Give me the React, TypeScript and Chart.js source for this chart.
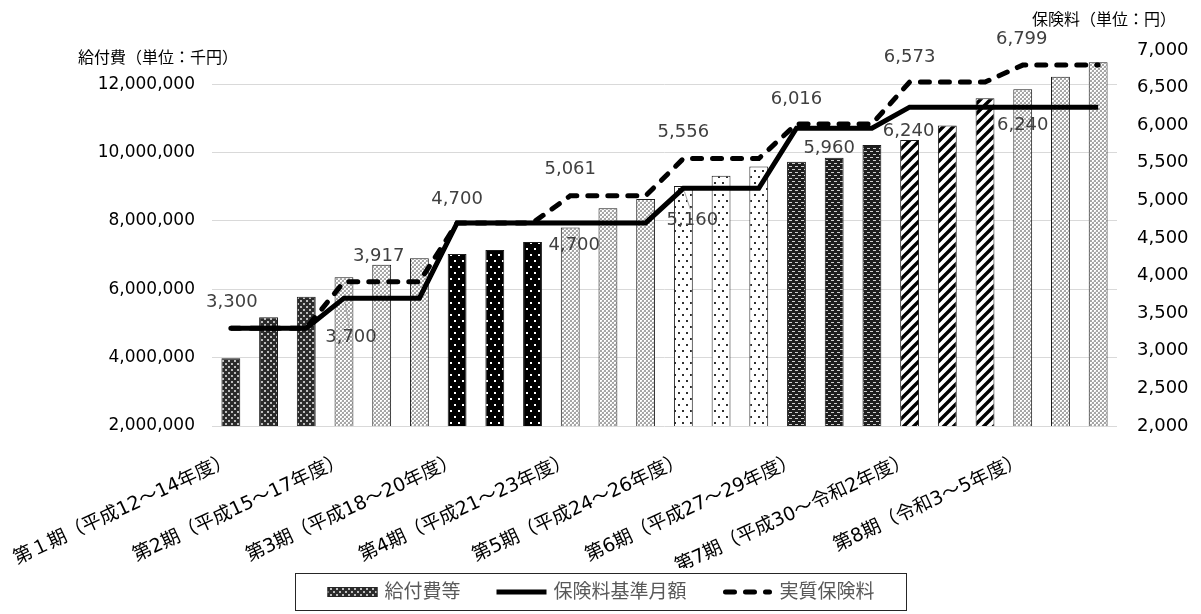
import React, { useEffect, useRef } from "react";
import { Chart, registerables } from "chart.js";

Chart.register(...registerables);

const FONT = '"DejaVu Sans", "Noto Sans CJK JP", sans-serif';

// ---- data ----
const categories = [
  "第１期（平成12～14年度）", "", "",
  "第2期（平成15～17年度）", "", "",
  "第3期（平成18～20年度）", "", "",
  "第4期（平成21～23年度）", "", "",
  "第5期（平成24～26年度）", "", "",
  "第6期（平成27～29年度）", "", "",
  "第7期（平成30～令和2年度）", "", "",
  "第8期（令和3～5年度）", "", "",
];

// 給付費等 (千円)
const benefitCosts = [
  3980000, 5180000, 5780000,
  6350000, 6720000, 6910000,
  7030000, 7150000, 7380000,
  7810000, 8370000, 8640000,
  9020000, 9320000, 9590000,
  9730000, 9850000, 10220000,
  10370000, 10790000, 11590000,
  11850000, 12220000, 12640000,
];

// 保険料基準月額 (円)
const baseMonthlyPremium = [
  3300, 3300, 3300,
  3700, 3700, 3700,
  4700, 4700, 4700,
  4700, 4700, 4700,
  5160, 5160, 5160,
  5960, 5960, 5960,
  6240, 6240, 6240,
  6240, 6240, 6240,
];

// 実質保険料 (円)
const effectivePremium = [
  3300, 3300, 3300,
  3917, 3917, 3917,
  4700, 4700, 4700,
  5061, 5061, 5061,
  5556, 5556, 5556,
  6016, 6016, 6016,
  6573, 6573, 6573,
  6799, 6799, 6799,
];

const leftTicks = [2000000, 4000000, 6000000, 8000000, 10000000, 12000000];
const rightTicks = [2000, 2500, 3000, 3500, 4000, 4500, 5000, 5500, 6000, 6500, 7000];

const seriesNames = ["給付費等", "保険料基準月額", "実質保険料"];
const leftAxisTitle = "給付費（単位：千円）";
const rightAxisTitle = "保険料（単位：円）";

// value-label placement (dataset index, point index, pixel offsets, leader line)
const labelLayout = [
  { ds: 1, i: 0, dx: 1, dy: -26, leader: false },
  { ds: 1, i: 3, dx: 7, dy: 39, leader: true },
  { ds: 1, i: 6, dx: 0, dy: -24, leader: false },
  { ds: 1, i: 9, dx: 4, dy: 22, leader: false },
  { ds: 1, i: 12, dx: 9, dy: 32, leader: true },
  { ds: 1, i: 16, dx: -5, dy: 20, leader: false },
  { ds: 1, i: 18, dx: -1, dy: 24, leader: false },
  { ds: 1, i: 21, dx: 0, dy: 18, leader: false },
  { ds: 2, i: 4, dx: -3, dy: -26, leader: false },
  { ds: 2, i: 9, dx: 0, dy: -26, leader: false },
  { ds: 2, i: 12, dx: 0, dy: -26, leader: false },
  { ds: 2, i: 15, dx: 0, dy: -25, leader: false },
  { ds: 2, i: 18, dx: 0, dy: -25, leader: false },
  { ds: 2, i: 21, dx: -1, dy: -26, leader: false },
];

const fmt = (v: number) => Number(v).toLocaleString("en-US");

function makeTile(
  target: CanvasRenderingContext2D,
  w: number,
  h: number,
  draw: (g: CanvasRenderingContext2D) => void
): CanvasPattern {
  const c = document.createElement("canvas");
  c.width = w;
  c.height = h;
  const g = c.getContext("2d") as CanvasRenderingContext2D;
  draw(g);
  return target.createPattern(c, "repeat") as CanvasPattern;
}

function buildPatterns(ctx: CanvasRenderingContext2D) {
  const darkGrid = makeTile(ctx, 6, 6, (g) => {
    g.fillStyle = "#2b2b2b";
    g.fillRect(0, 0, 6, 6);
    g.fillStyle = "#bdbdbd";
    g.fillRect(0, 0, 2, 2);
    g.fillRect(3, 3, 2, 2);
  });
  const lightDots = makeTile(ctx, 4, 4, (g) => {
    g.fillStyle = "#a6a6a6";
    g.fillRect(0, 0, 4, 4);
    g.fillStyle = "#ffffff";
    g.fillRect(0, 0, 2, 1);
    g.fillRect(0, 1, 1, 1);
    g.fillRect(2, 2, 2, 1);
    g.fillRect(2, 3, 1, 1);
    g.fillStyle = "#e6e6e6";
    g.fillRect(1, 1, 1, 1);
    g.fillRect(3, 3, 1, 1);
  });
  const blackDots = makeTile(ctx, 8, 12, (g) => {
    g.fillStyle = "#000";
    g.fillRect(0, 0, 8, 12);
    g.fillStyle = "#ffffff";
    g.fillRect(2, 2, 2, 2);
    g.fillRect(6, 8, 2, 2);
  });
  const whiteDots = makeTile(ctx, 8, 12, (g) => {
    g.fillStyle = "#ffffff";
    g.fillRect(0, 0, 8, 12);
    g.fillStyle = "#303030";
    g.fillRect(2, 2, 2, 2);
    g.fillRect(6, 8, 2, 2);
  });
  const dashes = makeTile(ctx, 6, 6, (g) => {
    g.fillStyle = "#1e1e1e";
    g.fillRect(0, 0, 6, 6);
    g.fillStyle = "#cfcfcf";
    g.fillRect(0, 1, 3, 1);
    g.fillRect(3, 4, 3, 1);
  });
  const diagonal = makeTile(ctx, 10, 10, (g) => {
    g.fillStyle = "#ffffff";
    g.fillRect(0, 0, 10, 10);
    g.strokeStyle = "#000";
    g.lineWidth = 3.4;
    g.beginPath();
    g.moveTo(-2, 12);
    g.lineTo(12, -2);
    g.moveTo(-2, 2);
    g.lineTo(2, -2);
    g.moveTo(8, 12);
    g.lineTo(12, 8);
    g.stroke();
  });
  return [darkGrid, lightDots, blackDots, lightDots, whiteDots, dashes, diagonal, lightDots];
}

const valueLabelPlugin = {
  id: "valueLabels",
  afterDatasetsDraw(chart: any) {
    const ctx = chart.ctx as CanvasRenderingContext2D;
    ctx.save();
    ctx.font = `18px ${FONT}`;
    ctx.textAlign = "center";
    ctx.textBaseline = "middle";
    for (const l of labelLayout) {
      const el = chart.getDatasetMeta(l.ds).data[l.i];
      const v = chart.data.datasets[l.ds].data[l.i];
      const tx = el.x + l.dx;
      const ty = el.y + l.dy;
      if (l.leader) {
        ctx.strokeStyle = "#a6a6a6";
        ctx.lineWidth = 1;
        ctx.beginPath();
        ctx.moveTo(tx - 2, ty - 11);
        ctx.lineTo(el.x + 1, el.y + 3);
        ctx.stroke();
      }
      ctx.fillStyle = "#404040";
      ctx.fillText(fmt(v), tx, ty);
    }
    ctx.restore();
  },
};

const axisTitlePlugin = {
  id: "axisTitles",
  afterDraw(chart: any) {
    const { ctx, chartArea } = chart;
    ctx.save();
    ctx.font = `16px ${FONT}`;
    ctx.fillStyle = "#000";
    ctx.textAlign = "center";
    ctx.textBaseline = "middle";
    ctx.fillText(leftAxisTitle, chartArea.left - 54, chartArea.top + 9);
    ctx.fillText(rightAxisTitle, chartArea.right - 13, chartArea.top - 29);
    ctx.restore();
  },
};

function makeLegendPlugin(swatch: CanvasPattern) {
  return {
    id: "boxLegend",
    afterDraw(chart: any) {
      const ctx = chart.ctx as CanvasRenderingContext2D;
      ctx.save();
      ctx.font = `19px ${FONT}`;
      const swW = 50;
      const gap = 7;
      const itemGap = 36;
      const padX = 32;
      const widths = seriesNames.map((t) => swW + gap + ctx.measureText(t).width);
      const total = widths.reduce((a, b) => a + b, 0) + itemGap * (widths.length - 1);
      const boxW = total + padX * 2;
      const boxH = 37;
      const boxLeft = Math.round(chart.width / 2 - boxW / 2) + 0.5;
      const boxTop = chart.height - 4 - boxH + 0.5;
      ctx.strokeStyle = "#262626";
      ctx.lineWidth = 1;
      ctx.strokeRect(boxLeft, boxTop, Math.round(boxW), boxH);
      const cy = boxTop + boxH / 2;
      let x = boxLeft + padX;
      seriesNames.forEach((t, k) => {
        if (k === 0) {
          ctx.fillStyle = swatch;
          ctx.fillRect(x, cy - 5, swW, 10);
          ctx.strokeStyle = "#262626";
          ctx.lineWidth = 1;
          ctx.strokeRect(x + 0.5, cy - 5 + 0.5, swW - 1, 9);
        } else {
          ctx.strokeStyle = "#000";
          ctx.lineWidth = 5;
          ctx.beginPath();
          if (k === 2) {
            ctx.setLineDash([9, 11]);
            ctx.lineCap = "round";
            ctx.moveTo(x + 3, cy);
            ctx.lineTo(x + swW - 3, cy);
          } else {
            ctx.setLineDash([]);
            ctx.lineCap = "butt";
            ctx.moveTo(x, cy);
            ctx.lineTo(x + swW, cy);
          }
          ctx.stroke();
          ctx.setLineDash([]);
        }
        ctx.fillStyle = "#595959";
        ctx.textAlign = "left";
        ctx.textBaseline = "middle";
        ctx.fillText(t, x + swW + gap, cy + 1);
        x += widths[k] + itemGap;
      });
      ctx.restore();
    },
  };
}

export default function App() {
  const canvasRef = useRef<HTMLCanvasElement | null>(null);

  useEffect(() => {
    const canvas = canvasRef.current;
    if (!canvas) return;
    const ctx = canvas.getContext("2d") as CanvasRenderingContext2D;
    const patterns = buildPatterns(ctx);
    Chart.defaults.font.family = FONT;

    const chart = new Chart(ctx, {
      type: "bar",
      data: {
        labels: categories,
        datasets: [
          {
            type: "bar",
            label: seriesNames[0],
            data: benefitCosts,
            yAxisID: "y",
            backgroundColor: benefitCosts.map((_, i) => patterns[Math.floor(i / 3)]),
            borderColor: "#1a1a1a",
            borderWidth: 1,
            barPercentage: 0.5,
            categoryPercentage: 1,
            order: 3,
          } as any,
          {
            type: "line",
            label: seriesNames[1],
            data: baseMonthlyPremium,
            yAxisID: "y1",
            borderColor: "#000",
            borderWidth: 5,
            pointRadius: 0,
            tension: 0,
            fill: false,
            order: 1,
          } as any,
          {
            type: "line",
            label: seriesNames[2],
            data: effectivePremium,
            yAxisID: "y1",
            borderColor: "#000",
            borderWidth: 5,
            borderDash: [9, 11],
            borderCapStyle: "round",
            pointRadius: 0,
            tension: 0,
            fill: false,
            order: 2,
          } as any,
        ],
      },
      options: {
        responsive: false,
        animation: false,
        layout: { padding: { top: 50, bottom: 46, left: 0, right: 0 } },
        plugins: {
          legend: { display: false },
          tooltip: { enabled: false },
        },
        scales: {
          x: {
            grid: { display: false, drawTicks: false },
            border: { display: false },
            ticks: {
              autoSkip: false,
              minRotation: 25,
              maxRotation: 25,
              color: "#000",
              font: { size: 19 },
              padding: 23,
            },
            afterFit: (s: any) => {
              s.height = 142;
              s.paddingLeft = 0;
              s.paddingRight = 0;
            },
          },
          y: {
            position: "left",
            min: 2000000,
            max: 13000000,
            afterBuildTicks: (s: any) => {
              s.ticks = leftTicks.map((v) => ({ value: v }));
            },
            grid: { color: "#d9d9d9", lineWidth: 1, drawTicks: false },
            border: { display: false },
            ticks: {
              color: "#000",
              font: { size: 17 },
              padding: 17,
              callback: (v: any) => fmt(v),
            },
            afterFit: (s: any) => {
              s.width = 212;
            },
          },
          y1: {
            position: "right",
            min: 2000,
            max: 7000,
            afterBuildTicks: (s: any) => {
              s.ticks = rightTicks.map((v) => ({ value: v }));
            },
            grid: { display: false, drawTicks: false },
            border: { display: false },
            ticks: {
              color: "#000",
              font: { size: 18 },
              padding: 20,
              callback: (v: any) => fmt(v),
            },
            afterFit: (s: any) => {
              s.width = 84;
            },
          },
        },
      } as any,
      plugins: [valueLabelPlugin, axisTitlePlugin, makeLegendPlugin(patterns[0])],
    });

    return () => {
      chart.destroy();
    };
  }, []);

  return (
    <div style={{ position: "fixed", left: 0, top: 0, width: 1201, height: 614, background: "#fff" }}>
      <canvas ref={canvasRef} width={1201} height={614} style={{ display: "block" }} />
    </div>
  );
}
